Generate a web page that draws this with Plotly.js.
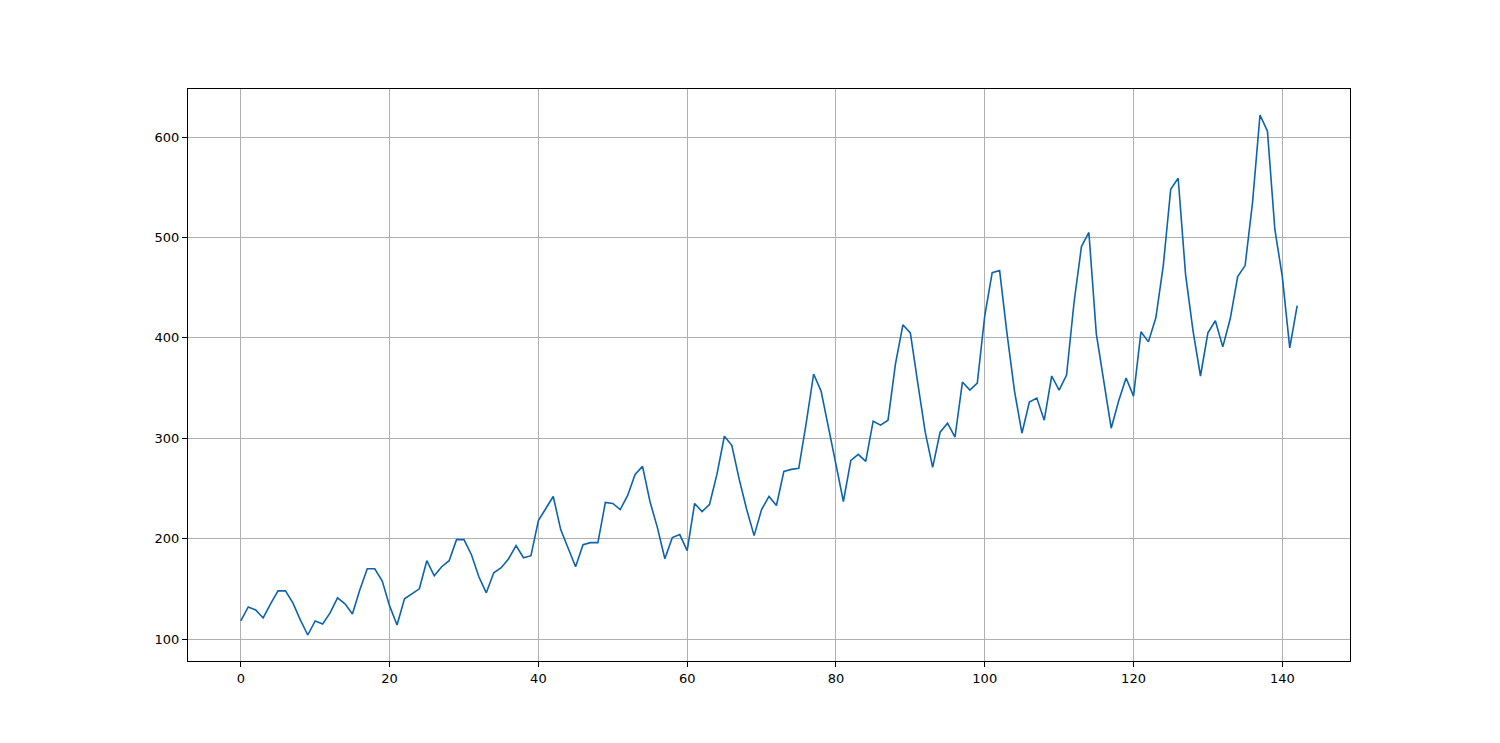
<!DOCTYPE html>
<html><head><meta charset="utf-8">
<script src="https://cdn.plot.ly/plotly-3.0.1.min.js"></script>
<style>html,body{margin:0;padding:0;background:#fff;}#chart{width:1500px;height:743px;}</style>
</head><body><div id="chart"></div>
<script>
const passengers = [118,132,129,121,135,148,148,136,119,104,118,
115,126,141,135,125,149,170,170,158,133,114,140,
145,150,178,163,172,178,199,199,184,162,146,166,
171,180,193,181,183,218,230,242,209,191,172,194,
196,196,236,235,229,243,264,272,237,211,180,201,
204,188,235,227,234,264,302,293,259,229,203,229,
242,233,267,269,270,315,364,347,312,274,237,278,
284,277,317,313,318,374,413,405,355,306,271,306,
315,301,356,348,355,422,465,467,404,347,305,336,
340,318,362,348,363,435,491,505,404,359,310,337,
360,342,406,396,420,472,548,559,463,407,362,405,
417,391,419,461,472,535,622,606,508,461,390,432];
const index = passengers.map((_, i) => i);
const xTicks = [0,20,40,60,80,100,120,140];
const yTicks = [100,200,300,400,500,600];

const trace = {x: index, y: passengers, type: 'scatter', mode: 'lines',
  line: {color: '#0c63ae', width: 1.6}, hoverinfo: 'skip'};
const axisCommon = {showgrid: true, gridcolor: '#b0b0b0', gridwidth: 1, zeroline: false,
  showline: true, mirror: true, linecolor: '#000', linewidth: 1,
  ticks: 'outside', ticklen: 5, tickwidth: 1, tickcolor: '#000',
  tickfont: {family: 'DejaVu Sans', size: 13, color: '#000'}};
const layout = {
  width: 1500, height: 743, showlegend: false,
  paper_bgcolor: '#fff', plot_bgcolor: '#fff',
  margin: {l: 188, r: 150, t: 89, b: 82, pad: 0},
  xaxis: Object.assign({}, axisCommon, {range: [-7.1, 149.1], tickvals: xTicks, ticktext: xTicks.map(String)}),
  yaxis: Object.assign({}, axisCommon, {range: [78.1, 647.9], tickvals: yTicks, ticktext: yTicks.map(String)})
};
Plotly.newPlot('chart', [trace], layout, {staticPlot: true, displayModeBar: false});
</script></body></html>
